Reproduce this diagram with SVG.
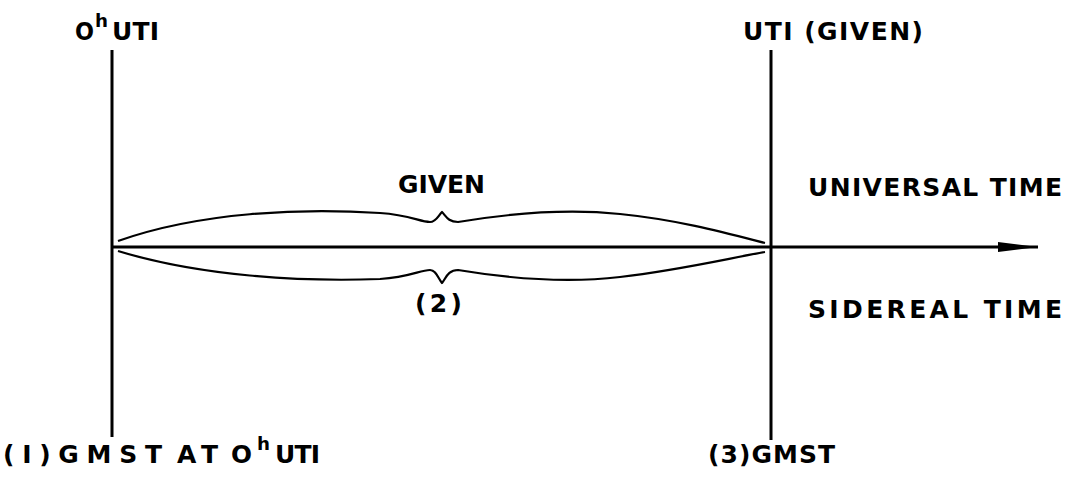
<svg xmlns="http://www.w3.org/2000/svg" width="1074" height="483" viewBox="0 0 1074 483">
<style>
.t{font-family:"DejaVu Sans",Verdana,sans-serif;font-weight:bold;font-size:25px;fill:#000}
.s{font-family:"DejaVu Sans",Verdana,sans-serif;font-weight:bold;font-size:18px;fill:#000}
.ln{stroke:#000;stroke-width:3;fill:none}
.br{stroke:#000;stroke-width:2.2;fill:none;stroke-linejoin:round}
</style>
<defs>
<marker id="ah" markerWidth="40" markerHeight="14" refX="40" refY="7" orient="auto" markerUnits="userSpaceOnUse">
<path d="M0,2 L40,7 L0,12 Z" fill="#000"/>
</marker>
</defs>
<rect width="1074" height="483" fill="#fff"/>
<g id="connectors">
<line class="ln" x1="112" y1="247" x2="1038" y2="247" marker-end="url(#ah)"/>
<path class="br" d="M118,241 C200,212 300,208 380,213 C410,215 420,222 430,222 C436,222 438,216 442,212 C446,216 448,222 458,222 C500,215 560,208 620,214 C680,220 730,234 765,243"/>
<path class="br" d="M118,251 C200,276 300,282 380,279 C410,277 420,270 430,270 C436,270 438,278 442,283 C446,278 448,270 458,270 C500,277 560,284 620,277 C680,270 730,258 765,252"/>
</g>
<g id="node-left">
<line class="ln" x1="112" y1="50" x2="112" y2="437"/>
<text class="t" x="75" y="40" textLength="19" lengthAdjust="spacingAndGlyphs">O</text>
<text class="s" x="95" y="27" textLength="13" lengthAdjust="spacingAndGlyphs">h</text>
<text class="t" x="112" y="40" textLength="47" lengthAdjust="spacing">UTI</text>
</g>
<g id="node-right">
<line class="ln" x1="771" y1="50" x2="771" y2="440"/>
<text class="t" x="743" y="40" textLength="180" lengthAdjust="spacing">UTI (GIVEN)</text>
</g>
<g id="node-given">
<text class="t" x="398" y="193" textLength="87" lengthAdjust="spacing">GIVEN</text>
</g>
<g id="node-2">
<text class="t" x="415" y="312" textLength="47" lengthAdjust="spacing">(2)</text>
</g>
<g id="node-ut">
<text class="t" x="808" y="196" textLength="254" lengthAdjust="spacing">UNIVERSAL TIME</text>
</g>
<g id="node-st">
<text class="t" x="808" y="318" textLength="254" lengthAdjust="spacing">SIDEREAL TIME</text>
</g>
<g id="node-1">
<text class="t" x="3" y="463" textLength="159" lengthAdjust="spacing">(I)GMST</text>
<text class="t" x="177" y="463" textLength="41" lengthAdjust="spacing">AT</text>
<text class="t" x="231" y="463" textLength="21" lengthAdjust="spacingAndGlyphs">O</text>
<text class="s" x="257" y="450" textLength="13" lengthAdjust="spacingAndGlyphs">h</text>
<text class="t" x="275" y="463" textLength="45" lengthAdjust="spacing">UTI</text>
</g>
<g id="node-3">
<text class="t" x="708" y="463" textLength="127" lengthAdjust="spacing">(3)GMST</text>
</g>
</svg>
